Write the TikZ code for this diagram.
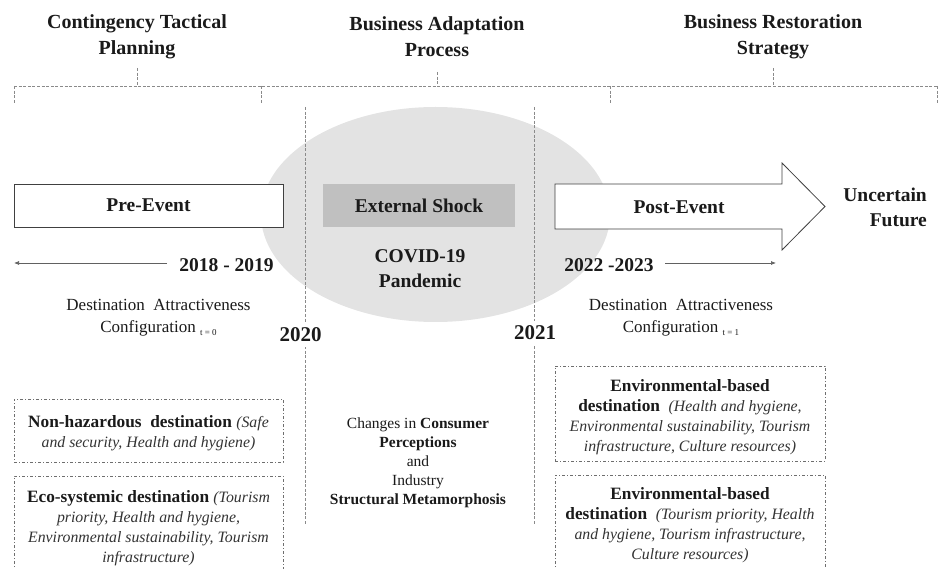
\documentclass[tikz,border=0pt]{standalone}
\usepackage{fontspec}
\setmainfont{Liberation Serif}
\usetikzlibrary{arrows.meta}

\definecolor{ink}{HTML}{1A1A1A}
\definecolor{softink}{HTML}{333333}
\definecolor{guide}{HTML}{8A8A8A}
\definecolor{shockfill}{HTML}{C0C0C0}
\definecolor{cloud}{HTML}{E3E3E3}
\definecolor{edge}{HTML}{404040}

\newcommand{\fTitle}{\fontsize{20}{26}\selectfont\bfseries}
\newcommand{\fBig}{\fontsize{19.5}{25}\selectfont\bfseries}
\newcommand{\fYear}{\fontsize{21}{25}\selectfont\bfseries}
\newcommand{\fBody}{\fontsize{17}{22}\selectfont}
\newcommand{\fBox}{\fontsize{17.3}{20}\selectfont}
\newcommand{\fMid}{\fontsize{15.5}{19}\selectfont}
\newcommand{\detail}[1]{{\fontsize{15.8}{20}\selectfont\itshape\color{softink}#1}}
\newcommand{\tsub}[1]{\raisebox{-3pt}{\fontsize{9}{9}\selectfont #1}}

\begin{document}
\begin{tikzpicture}[x=1pt,y=-1pt,
  txt/.style={text=ink, inner sep=0pt, align=center},
  guideline/.style={draw=guide, line width=0.6pt, dash pattern=on 3pt off 1.6pt},
  dashdotbox/.style={draw=guide!80!black, line width=0.7pt, dash pattern=on 3pt off 2pt on 1pt off 2pt},
  phasebox/.style={draw=edge, line width=0.8pt, fill=white},
  timearrow/.style={draw=guide!70!black, line width=0.7pt, -{Latex[length=5pt,width=4pt]}},
  yearlabel/.style={txt, fill=white, inner sep=5pt, font=\fYear}
]
\useasboundingbox (0,0) rectangle (940,569);

% shaded disruption period
\fill[cloud] (435.5,214.5) ellipse [x radius=174.5pt, y radius=107.5pt];

% stage headings
\node[txt, font=\fTitle] (plan) at (137,37) {Contingency Tactical\\Planning};
\node[txt, font=\fTitle] (adapt) at (437,37) {Business Adaptation\\Process};
\node[txt, font=\fTitle] (restore) at (773,37) {Business Restoration\\Strategy};

% brackets under the headings
\coordinate (b0) at (14,86);
\coordinate (b1) at (261,86);
\coordinate (b2) at (610,86);
\coordinate (b3) at (937,86);
\draw[guideline] (b0) -- (b3);
\draw[guideline] (b0) -- ++(0,17);
\draw[guideline] (b1) -- ++(0,17);
\draw[guideline] (b2) -- ++(0,17);
\draw[guideline] (b3) -- ++(0,17);
\draw[guideline] (plan.south |- 0,68) -- (plan.south |- b0);
\draw[guideline] (adapt.south |- 0,72) -- (adapt.south |- b0);
\draw[guideline] (restore.south |- 0,68) -- (restore.south |- b0);

% period boundaries
\coordinate (s0) at (305,107);
\coordinate (s1) at (305,525);
\coordinate (e0) at (534,107);
\coordinate (e1) at (534,525);
\draw[guideline] (s0) -- (s1);
\draw[guideline] (e0) -- (e1);

% phases
\node[phasebox, minimum width=269pt, minimum height=43pt, inner sep=0pt] (pre) at (148.5,205.5) {};
\node[txt, font=\fBig] (pretext) at (pre.center) {Pre-Event};

\node[fill=shockfill, minimum width=192pt, minimum height=43pt, inner sep=0pt] (shock) at (419,205.5) {};
\node[txt, font=\fBig] (shocktext) at (shock.center) {External Shock};

\draw[draw=edge, line width=0.8pt, fill=white, line join=miter]
  (555,184) -- (782,184) -- (782,163) -- (825,206.5) -- (782,250) -- (782,229) -- (555,229) -- cycle;
\node[txt, font=\fBig] (post) at (679,207) {Post-Event};

\node[txt, font=\fBig, align=right, anchor=east] (future) at (927,207) {Uncertain\\Future};

\node[txt, font=\fBig] (covid) at (420,269) {COVID-19\\Pandemic};

% time spans
\node[txt, font=\fBig] (pastyears) at (226.5,265) {2018 - 2019};
\coordinate (pastfrom) at (167,263);
\coordinate (pastto) at (14,263);
\draw[timearrow] (pastfrom) -- (pastto);

\node[txt, font=\fBig] (nextyears) at (609,265) {2022 -2023};
\coordinate (nextfrom) at (665,263);
\coordinate (nextto) at (776,263);
\draw[timearrow] (nextfrom) -- (nextto);

\node[yearlabel] (y2020) at (300.5,335) {2020};
\node[yearlabel] (y2021) at (535,333) {2021};

% attractiveness configurations
\node[txt, font=\fBody] (conf0) at (158.5,318)
  {Destination\ \ Attractiveness\\Configuration \tsub{t = 0}};
\node[txt, font=\fBody] (conf1) at (681,318)
  {Destination\ \ Attractiveness\\Configuration \tsub{t = 1}};

% destination profiles before the event
\node[dashdotbox, minimum width=269pt, minimum height=63pt, inner sep=0pt] (nonhaz) at (148.5,430.5) {};
\node[txt, font=\fBox] (nonhaztext) at (148.5,433)
  {\textbf{Non-hazardous\ \ destination}\ \detail{(Safe}\\\detail{and security, Health and hygiene)}};

\draw[dashdotbox] (14,572) |- (283,476) -- (283,572);
\node[txt, font=\fBox] (ecotext) at (148.5,528)
  {\textbf{Eco-systemic destination}\ \detail{(Tourism}\\\detail{priority, Health and hygiene,}\\\detail{Environmental sustainability, Tourism}\\\detail{infrastructure)}};

% industry change
\node[txt, font=\fMid] (change) at (418,463)
  {Changes\ in \textbf{Consumer}\\\textbf{Perceptions}\\and\\Industry\\\textbf{Structural Metamorphosis}};

% destination profiles after the event
\node[dashdotbox, minimum width=270pt, minimum height=95pt, inner sep=0pt] (envone) at (690,413.5) {};
\node[txt, font=\fBox] (envonetext) at (690,417)
  {\textbf{Environmental-based}\\\textbf{destination}\ \ \detail{(Health and hygiene,}\\\detail{Environmental sustainability, Tourism}\\\detail{infrastructure, Culture resources)}};

\draw[dashdotbox] (555,572) |- (825,475) -- (825,572);
\node[txt, font=\fBox] (envtwotext) at (690,525)
  {\textbf{Environmental-based}\\\textbf{destination}\ \ \detail{(Tourism priority, Health}\\\detail{and hygiene, Tourism infrastructure,}\\\detail{Culture resources)}};
\end{tikzpicture}
\end{document}
